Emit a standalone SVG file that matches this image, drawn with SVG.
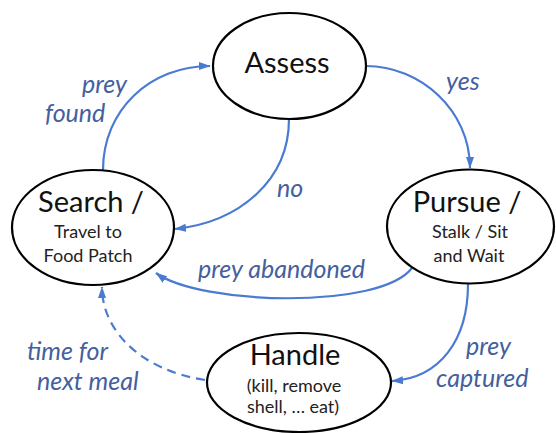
<svg xmlns="http://www.w3.org/2000/svg" width="556" height="433" viewBox="0 0 556 433">
<style>
.node{fill:#fff;stroke:#000;stroke-width:2.2}
.title{font-family:Lato,"Liberation Sans",sans-serif;font-size:29px;fill:#111;text-anchor:middle}
.sub{font-family:Lato,"Liberation Sans",sans-serif;font-size:18px;fill:#222;text-anchor:middle}
.lbl{font-family:Lato,"Liberation Sans",sans-serif;font-size:25px;font-style:italic;fill:#44609e}
.edge{fill:none;stroke:#4a7bd0;stroke-width:2.2}
.dash{stroke-dasharray:9 6}
</style>
<defs>
<marker id="arr" markerUnits="userSpaceOnUse" markerWidth="12" markerHeight="10" viewBox="0 0 12 10" refX="11" refY="5" orient="auto">
<path d="M0,1 L11.5,5 L0,9 Z" fill="#4a7bd0"/>
</marker>
</defs>
<g id="connectors">
<path class="edge" d="M103,170 C103,110 150,66 210,66" marker-end="url(#arr)"/>
<path class="edge" d="M366,66 C420,66 470,110 470,168" marker-end="url(#arr)"/>
<path class="edge" d="M289,119 C289,180 240,222 175,229" marker-end="url(#arr)"/>
<path class="edge" d="M412,268 C380,310 200,305 156,273" marker-end="url(#arr)"/>
<path class="edge" d="M468,284 C468,340 440,378 392,381" marker-end="url(#arr)"/>
<path class="edge dash" d="M205,380 C140,370 102,330 102,287" marker-end="url(#arr)"/>
</g>
<g id="labels">
<text class="lbl" x="82" y="93">prey</text>
<text class="lbl" x="45" y="122">found</text>
<text class="lbl" x="446" y="90">yes</text>
<text class="lbl" x="277" y="197">no</text>
<text class="lbl" x="198" y="278">prey abandoned</text>
<text class="lbl" x="27" y="360">time for</text>
<text class="lbl" x="37" y="390">next meal</text>
<text class="lbl" x="466" y="355">prey</text>
<text class="lbl" x="436" y="387">captured</text>
</g>
<g id="assess">
<ellipse class="node" cx="289.5" cy="66" rx="76.5" ry="53"/>
<text class="title" x="287" y="73">Assess</text>
</g>
<g id="search">
<ellipse class="node" cx="93" cy="227.5" rx="81" ry="57.5"/>
<text class="title" x="91" y="212">Search /</text>
<text class="sub" x="88" y="238">Travel to</text>
<text class="sub" x="88" y="262">Food Patch</text>
</g>
<g id="pursue">
<ellipse class="node" cx="470.5" cy="226.5" rx="83.5" ry="57"/>
<text class="title" x="467" y="212">Pursue /</text>
<text class="sub" x="470" y="238">Stalk / Sit</text>
<text class="sub" x="469" y="262">and Wait</text>
</g>
<g id="handle">
<ellipse class="node" cx="299" cy="382.5" rx="92" ry="49.5"/>
<text class="title" x="295" y="365">Handle</text>
<text class="sub" x="294" y="392">(kill, remove</text>
<text class="sub" x="293" y="413">shell, … eat)</text>
</g>
</svg>
